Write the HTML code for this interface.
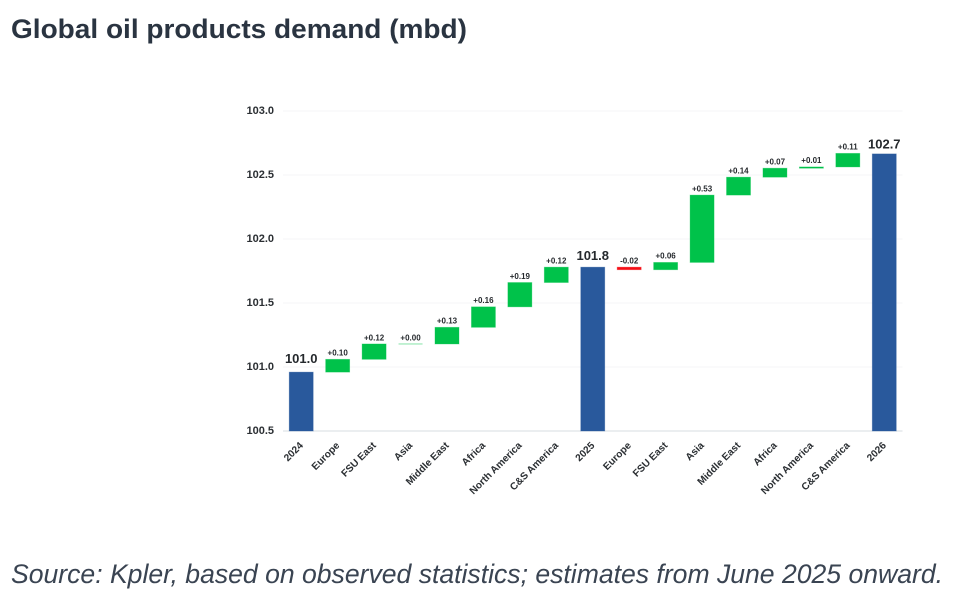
<!DOCTYPE html>
<html lang="en">
<head>
<meta charset="utf-8">
<title>Global oil products demand (mbd)</title>
<style>
html,body{margin:0;padding:0;background:#fff;width:957px;height:607px;overflow:hidden}
svg{display:block;font-family:"Liberation Sans",sans-serif}
</style>
</head>
<body>
<svg id="chart" xmlns="http://www.w3.org/2000/svg" width="957" height="607" viewBox="0 0 957 607">
  <text x="11" y="38" font-size="27" font-weight="700" fill="#2a3441" textLength="456" lengthAdjust="spacingAndGlyphs">Global oil products demand (mbd)</text>
  <text x="11" y="583" font-size="27" font-style="italic" fill="#3a4452" textLength="932" lengthAdjust="spacingAndGlyphs">Source: Kpler, based on observed statistics; estimates from June 2025 onward.</text>
  <g id="grid"></g>
  <g id="bars"></g>
  <g id="labels"></g>
  <g id="xticks"></g>
  <g id="yticks"></g>
</svg>
<script>
const categories = ["2024","Europe","FSU East","Asia","Middle East","Africa","North America","C&S America","2025","Europe","FSU East","Asia","Middle East","Africa","North America","C&S America","2026"];
const barKinds = ["total","delta","delta","delta","delta","delta","delta","delta","total","delta","delta","delta","delta","delta","delta","delta","total"];
const barValues = [100.96,0.10,0.12,0.00,0.13,0.16,0.19,0.12,101.78,-0.02,0.057,0.526,0.14,0.07,0.01,0.106,102.665];
const yTicks = [100.5,101.0,101.5,102.0,102.5,103.0];

const NS = "http://www.w3.org/2000/svg";
const plotLeft = 283, plotRight = 902.5, plotTop = 111, plotBottom = 431;
const yMin = 100.5, yMax = 103.0;
const colors = {total:"#29599c", up:"#00c24a", down:"#f50f16"};
const strokes = {total:"rgba(41,89,156,.4)", up:"rgba(0,194,74,.4)", down:"rgba(245,15,22,.4)"};

function yScale(v){ return plotBottom - (v - yMin) / (yMax - yMin) * (plotBottom - plotTop); }
function xScale(i){ return plotLeft + (i + 0.5) * (plotRight - plotLeft) / categories.length; }
function totalLabelGap(i){ return i === 0 ? 9 : i === 8 ? 7 : 5.5; }
const barWidth = 24;

function svgEl(tag, attrs, parent, text){
  const el = document.createElementNS(NS, tag);
  for (const k in attrs) el.setAttribute(k, attrs[k]);
  if (text !== undefined) el.textContent = text;
  parent.appendChild(el);
  return el;
}

const gridG = document.getElementById("grid");
const ytG = document.getElementById("yticks");
yTicks.forEach(function(t){
  const line = svgEl("line", {x1:plotLeft, x2:plotRight, y1:yScale(t), y2:yScale(t),
    stroke: t === yMin ? "#dfe3e7" : "#f5f6f7", "stroke-width": t === yMin ? 1.2 : 1}, gridG);
  
  
  const lab = svgEl("text", {x:274, y:yScale(t) + 3, "text-anchor":"end", "font-size":11, "font-weight":700, fill:"#2b2f33"}, ytG, t.toFixed(1));
  
  
});

const barsG = document.getElementById("bars");
const labelsG = document.getElementById("labels");
const xtG = document.getElementById("xticks");
let running = 0;
categories.forEach(function(cat, i){
  const kind = barKinds[i], v = barValues[i];
  let lo, hi, fill, stroke;
  if (kind === "total") {
    lo = yMin; hi = v; running = v; fill = colors.total; stroke = strokes.total;
  } else {
    lo = Math.min(running, running + v); hi = Math.max(running, running + v);
    running += v;
    fill = v < 0 ? colors.down : colors.up;
    stroke = v < 0 ? strokes.down : strokes.up;
  }
  const cx = xScale(i);
  const top = yScale(hi), h = yScale(lo) - top;
  const flat = h < 0.5;
  const bar = svgEl("rect", {x:cx - barWidth / 2, y:flat ? top - 0.6 : top, width:barWidth, height:flat ? 1.2 : h,
    fill:flat ? stroke : fill, stroke:stroke, "stroke-width":flat ? 0 : 0.8}, barsG);
  
  

  const text = kind === "total" ? v.toFixed(1) : (v < 0 ? "" : "+") + v.toFixed(2);
  const lab = svgEl("text", {x:cx, y:kind === "total" ? top - totalLabelGap(i) : top - 3.7,
    "text-anchor":"middle", "font-size":kind === "total" ? 13 : 8, "font-weight":700, fill:"#25292d"}, labelsG, text);
  
  

  const tx = cx + 2.5, ty = 446;
  const tick = svgEl("text", {x:tx, y:ty, transform:"rotate(-45 " + tx + " " + ty + ")",
    "text-anchor":"end", "font-size":10.1, "font-weight":700, fill:"#2b2f33"}, xtG, cat);
  
  
});
</script>
</body>
</html>
